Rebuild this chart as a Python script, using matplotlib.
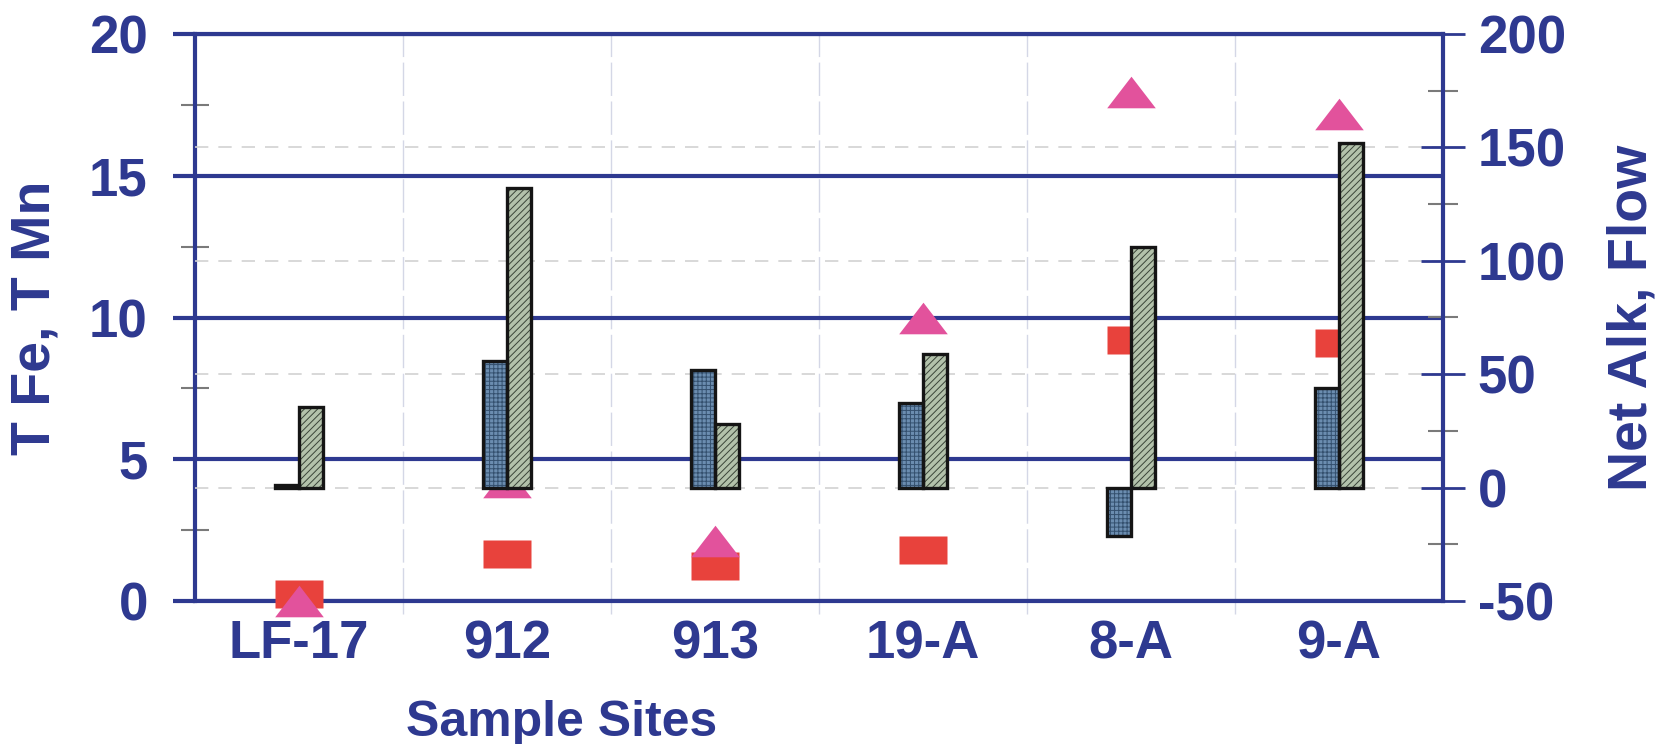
import matplotlib
matplotlib.use('Agg')
import matplotlib.pyplot as plt
from matplotlib.ticker import FixedLocator
import numpy as np

# ---- data ----
sites = ['LF-17', '912', '913', '19-A', '8-A', '9-A']
net_alk = [1.0, 56, 52, 37.5, -21.5, 44]      # right axis, blue cross-hatched bars
flow = [35.7, 132, 28, 59, 106, 152]          # right axis, grey-green striped bars
t_fe = [0.25, 1.65, 1.24, 1.8, 9.19, 9.11]    # left axis, red rectangles
t_mn = [0.0, 4.2, 2.13, 9.97, 17.95, 17.18]   # left axis, pink triangles
left_ticks = [0, 5, 10, 15, 20]
left_minor = [2.5, 7.5, 12.5, 17.5]
right_ticks = [-50, 0, 50, 100, 150, 200]
right_minor = [-25, 25, 75, 125, 175]
right_dashed = [0, 50, 100, 150]

NAVY = '#2e3990'
GREY = '#7a7a7a'
LIGHT = '#d4d7e6'

plt.rcParams['font.family'] = ['Liberation Sans', 'DejaVu Sans']
plt.rcParams['font.weight'] = 'bold'
plt.rcParams['hatch.linewidth'] = 0.7
plt.rcParams['axes.unicode_minus'] = False

fig = plt.figure(figsize=(16.63, 7.44), dpi=100)
ax = fig.add_axes([195/1663, (744-601)/744, 1248/1663, 567/744])
ax2 = ax.twinx()

x = np.arange(len(sites))
ax.set_xlim(-0.5, len(sites) - 0.5)
ax.set_ylim(0, 20)
ax2.set_ylim(-50, 200)

# ---- left axis styling ----
ax.set_axisbelow(True)
ax.set_yticks(left_ticks)
ax.yaxis.set_minor_locator(FixedLocator(left_minor))
ax.yaxis.grid(True, which='major', color=NAVY, lw=3)
ax.tick_params(axis='y', which='major', direction='out', length=16, width=3,
               color=NAVY, labelsize=38, labelcolor=NAVY, pad=18, right=False)
ax.tick_params(axis='y', which='minor', direction='inout', length=20, width=1.5,
               color=GREY, right=False)
ax.set_xticks(x, sites)
ax.xaxis.set_minor_locator(FixedLocator(list(np.arange(0.5, len(sites) - 1, 1.0))))
ax.xaxis.grid(True, which='minor', color=LIGHT, lw=1, ls=(0, (24, 4)))
ax.tick_params(axis='x', which='major', length=0, pad=13, labelsize=38, labelcolor=NAVY)
ax.tick_params(axis='x', which='minor', direction='out', length=9, width=1, color=LIGHT)
for s in ['left', 'bottom', 'top']:
    ax.spines[s].set_color(NAVY)
    ax.spines[s].set_linewidth(3)
ax.spines['right'].set_visible(False)

# ---- right axis styling ----
ax2.set_yticks(right_ticks)
ax2.yaxis.set_minor_locator(FixedLocator(right_minor))
ax2.tick_params(axis='y', which='major', direction='inout', length=32, width=2,
                color=NAVY, labelsize=38, labelcolor=NAVY, pad=9)
ax2.tick_params(axis='y', which='minor', direction='inout', length=21, width=1.5,
                color=GREY)
for s in ['left', 'bottom', 'top']:
    ax2.spines[s].set_visible(False)
ax2.spines['right'].set_color(NAVY)
ax2.spines['right'].set_linewidth(3)
for v in right_dashed:
    ax2.axhline(v, color='#d2d2d2', lw=1.2, ls=(0, (8, 6)), zorder=1)

# ---- markers (left axis) ----
rect = [(-1, -0.6), (1, -0.6), (1, 0.6), (-1, 0.6), (-1, -0.6)]
tri = [(0, 0.65), (-1, -0.65), (1, -0.65), (0, 0.65)]
ax.plot(x, t_fe, ls='none', marker=rect, ms=34, color='#e8423c', mec='none',
        clip_on=False, zorder=4)
ax.plot(x, t_mn, ls='none', marker=tri, ms=35, color='#e2529c', mec='none',
        clip_on=False, zorder=5)

# ---- bars (right axis) ----
w = 0.115
ax2.bar(x - w/2, net_alk, w, color='#6b8db0', edgecolor='#34506e', hatch='++++',
        linewidth=0, zorder=2)
ax2.bar(x - w/2, net_alk, w, fill=False, edgecolor='#151515', linewidth=2.4, zorder=3)
ax2.bar(x + w/2, flow, w, color='#b3c2ab', edgecolor='#3a4438', hatch='/////',
        linewidth=0, zorder=2)
ax2.bar(x + w/2, flow, w, fill=False, edgecolor='#151515', linewidth=2.4, zorder=3)

# ---- labels ----
ax.set_ylabel('T Fe, T Mn', fontsize=40, fontweight='bold', color=NAVY)
ax.yaxis.set_label_coords(-0.107, 0.5)
ax2.set_ylabel('Net Alk, Flow', fontsize=40, fontweight='bold', color=NAVY)
ax2.yaxis.set_label_coords(1.131, 0.5)
ax.set_xlabel('Sample Sites', fontsize=36, fontweight='bold', color=NAVY)
ax.xaxis.set_label_coords(0.294, -0.174)

fig.savefig('out.png', dpi=100, facecolor='white')
